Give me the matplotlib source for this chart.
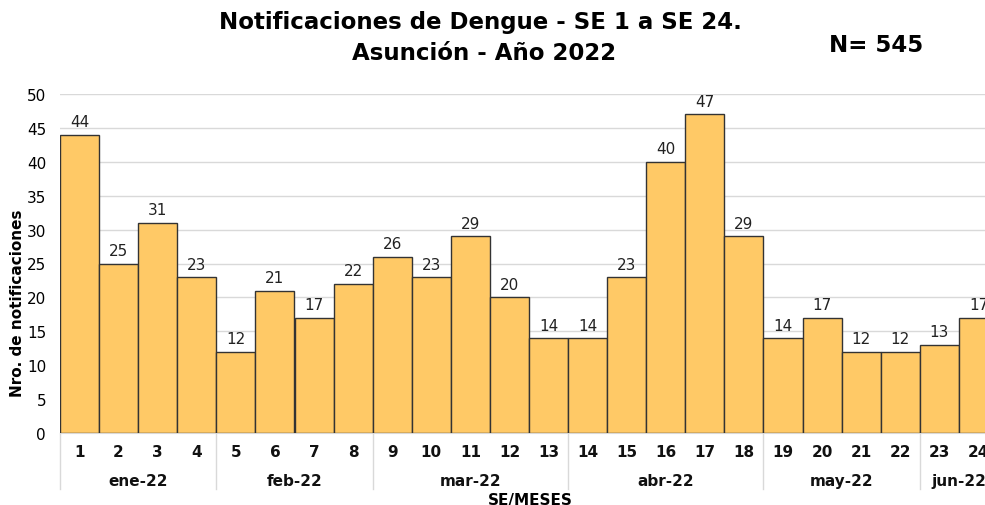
import matplotlib.pyplot as plt
import matplotlib.transforms as mtransforms

# Datos
semanas = [str(i) for i in range(1, 25)]
notificaciones = [44, 25, 31, 23, 12, 21, 17, 22, 26, 23, 29, 20, 14,
                  14, 23, 40, 47, 29, 14, 17, 12, 12, 13, 17]
meses = ["ene-22", "feb-22", "mar-22", "abr-22", "may-22", "jun-22"]
semanas_por_mes = [4, 4, 5, 5, 4, 2]

fig = plt.figure(figsize=(9.85, 5.06), dpi=100)
ax = fig.add_axes([60 / 985, 72 / 506, 938 / 985, 339 / 506])

x = list(range(len(semanas)))
ax.bar(x, notificaciones, width=1.0, color="#FFC966", edgecolor="#333333",
       linewidth=1.0, zorder=3)

# Etiquetas de valores
for xi, v in zip(x, notificaciones):
    ax.annotate(str(v), (xi, v), xytext=(0, 4), textcoords="offset points",
                ha="center", va="bottom", fontsize=11, color="#222222",
                zorder=4)

ax.set_xlim(-0.5, len(semanas) - 0.5)
ax.set_ylim(0, 50)
ax.set_yticks(range(0, 51, 5))
ax.yaxis.grid(True, color="#d9d9d9", linewidth=1.0, zorder=0)
ax.tick_params(axis="y", length=0, pad=10, labelsize=11)
ax.set_xticks([])
for s in ["top", "right", "left"]:
    ax.spines[s].set_visible(False)
ax.spines["bottom"].set_color("#d9d9d9")

# Eje de categorías: semanas y meses
trans = mtransforms.blended_transform_factory(ax.transData, ax.transAxes)
for xi, s in zip(x, semanas):
    ax.text(xi, -19 / 339, s, transform=trans, ha="center", va="center",
            fontsize=11, fontweight="bold", color="#111111")

inicio = 0
ax.plot([-0.5, -0.5], [0, -56 / 339], transform=trans, color="#d9d9d9",
        linewidth=1.0, clip_on=False)
for mes, n in zip(meses, semanas_por_mes):
    fin = inicio + n
    ax.text((inicio + fin - 1) / 2, -48 / 339, mes, transform=trans,
            ha="center", va="center", fontsize=11, fontweight="bold",
            color="#111111")
    ax.plot([fin - 0.5, fin - 0.5], [0, -56 / 339], transform=trans,
            color="#d9d9d9", linewidth=1.0, clip_on=False)
    inicio = fin

fig.text(530 / 985, 1 - 501 / 506, "SE/MESES", ha="center", va="center",
         fontsize=11, fontweight="bold")
fig.text(18 / 985, 1 - 303 / 506, "Nro. de notificaciones", rotation=90,
         ha="center", va="center", fontsize=11, fontweight="bold")

# Títulos
fig.text(480 / 985, 1 - 22 / 506, "Notificaciones de Dengue - SE 1 a SE 24.",
         ha="center", va="center", fontsize=16.5, fontweight="bold")
fig.text(484 / 985, 1 - 53 / 506, "Asunción - Año 2022",
         ha="center", va="center", fontsize=16.5, fontweight="bold")
fig.text(876 / 985, 1 - 45 / 506, "N= 545", ha="center", va="center",
         fontsize=16.5, fontweight="bold")

fig.savefig("out.png", dpi=100)
